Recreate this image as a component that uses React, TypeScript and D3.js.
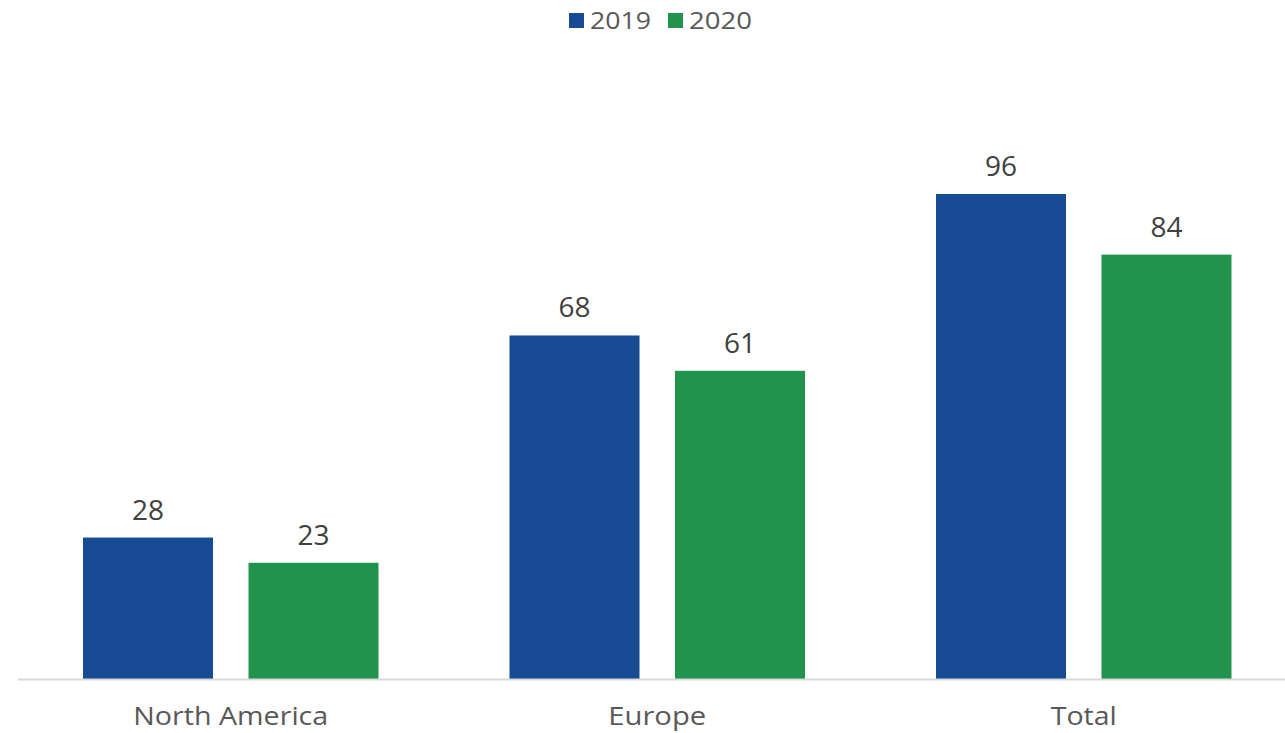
import React from "react";
import * as d3 from "d3";

const categories = ["North America", "Europe", "Total"];
const seriesNames = ["2019", "2020"];
const values2019 = [28, 68, 96];
const values2020 = [23, 61, 84];
const colors = ["#174B94", "#22934D"];

const W = 1285;
const H = 733;
const labelWidths: Record<string, number> = { "North America": 195, Europe: 98, Total: 66 };

export default function App() {
  const x = d3.scaleBand<string>().domain(categories).range([17.5, 1297]).paddingInner(0).paddingOuter(0);
  const x1 = d3.scaleBand<string>().domain(seriesNames).range([65.5, x.bandwidth() - 65.5]).paddingInner(35.5 / 165.5).paddingOuter(0);
  const y = d3.scaleLinear().domain([0, 96]).range([679, 194]);
  const series = [values2019, values2020];
  const font = "'Open Sans', sans-serif";

  return (
    <svg width={W} height={H} style={{ position: "absolute", left: 0, top: 0, background: "#fff" }}>
      {/* legend */}
      <g fontFamily={font} fontSize={24.5} fill="#595959">
        <rect x={569} y={13} width={15} height={15} fill={colors[0]} />
        <text x={590} y={29} textLength={61} lengthAdjust="spacingAndGlyphs">2019</text>
        <rect x={668} y={13} width={15} height={15} fill={colors[1]} />
        <text x={689} y={29} textLength={63} lengthAdjust="spacingAndGlyphs">2020</text>
      </g>
      {categories.map((c, i) => (
        <g key={c} transform={`translate(${x(c)},0)`}>
          {series.map((vals, s) => (
            <g key={s}>
              <rect
                x={x1(seriesNames[s])}
                y={y(vals[i])}
                width={x1.bandwidth()}
                height={y(0) - y(vals[i])}
                fill={colors[s]}
              />
              <text
                x={(x1(seriesNames[s]) as number) + x1.bandwidth() / 2}
                y={y(vals[i]) - 18}
                textAnchor="middle"
                fontFamily={font}
                fontSize={28}
                fill="#404040"
              >
                {vals[i]}
              </text>
            </g>
          ))}
          <text
            x={x.bandwidth() / 2}
            y={725}
            textAnchor="middle"
            fontFamily={font}
            fontSize={25.5}
            fill="#595959"
            textLength={labelWidths[c]}
            lengthAdjust="spacingAndGlyphs"
          >
            {c}
          </text>
        </g>
      ))}
      <line x1={18} x2={1285} y1={679.5} y2={679.5} stroke="#D9D9D9" strokeWidth={2} />
    </svg>
  );
}
